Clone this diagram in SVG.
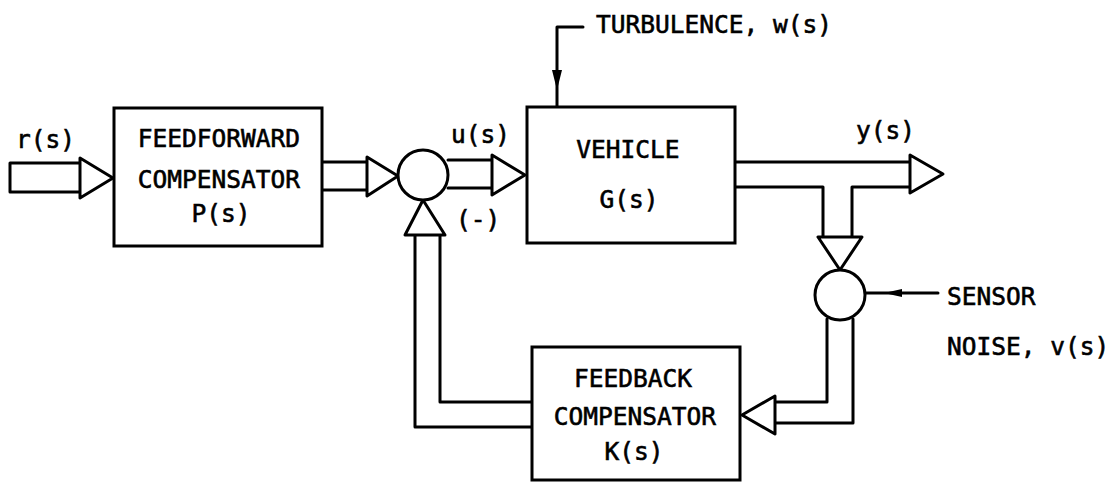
<svg xmlns="http://www.w3.org/2000/svg" width="1119" height="483" viewBox="0 0 1119 483">
<style>
.ln{fill:none;stroke:#000;stroke-width:3;stroke-linejoin:round;stroke-linecap:round}
.box{fill:#fff;stroke:#000;stroke-width:3}
.hd{fill:#fff;stroke:#000;stroke-width:3;stroke-linejoin:round}
.fh{fill:#000;stroke:none}
text{font-family:"DejaVu Sans Mono","Liberation Mono",monospace;font-size:24.5px;fill:#000;stroke:#000;stroke-width:0.6}
.c{text-anchor:middle}
</style>
<rect width="1119" height="483" fill="#fff"/>
<g id="connectors">
<path class="ln" d="M80,163 H10 V192 H80"/>
<path class="hd" d="M80,158 L113,178 L80,198 Z"/>
<path class="ln" d="M322,162 H367 M322,190 H367"/>
<path class="hd" d="M367,157 L398,176 L367,196 Z"/>
<path class="ln" d="M448,160 H492 M448,188 H492"/>
<path class="hd" d="M492,155 L525,175 L492,195 Z"/>
<path class="ln" d="M735,162 H910 M735,187 H823 V237 M852,237 V187 H910"/>
<path class="hd" d="M910,155 L943,174 L910,193 Z"/>
<path class="hd" d="M818,237 L862,237 L840,270 Z"/>
<path class="ln" d="M865,293 H938"/>
<path class="fh" d="M884,293 L902,289 L902,297 Z"/>
<path class="ln" d="M827,319 V402 H775 M853,319 V423 H775"/>
<path class="hd" d="M775,396 L742,415 L775,434 Z"/>
<path class="ln" d="M532,402 H440 V235 M532,427 H415 V235"/>
<path class="hd" d="M405,235 L445,235 L423,200 Z"/>
<path class="ln" d="M583,27 H557 V107"/>
<path class="fh" d="M552,70 L562,70 L557,90 Z"/>
</g>
<g id="feedforward">
<rect class="box" x="114" y="108" width="208" height="138"/>
<text class="c" x="219" y="147">FEEDFORWARD</text>
<text class="c" x="219" y="188">COMPENSATOR</text>
<text class="c" x="221" y="222">P(s)</text>
</g>
<g id="summer1">
<circle class="box" cx="423" cy="175" r="25"/>
</g>
<g id="vehicle">
<rect class="box" x="527" y="107" width="208" height="136"/>
<text class="c" x="628" y="158">VEHICLE</text>
<text class="c" x="629" y="208">G(s)</text>
</g>
<g id="summer2">
<circle class="box" cx="840" cy="295" r="25"/>
</g>
<g id="feedback">
<rect class="box" x="532" y="347" width="208" height="133"/>
<text class="c" x="633" y="387">FEEDBACK</text>
<text class="c" x="635" y="425">COMPENSATOR</text>
<text class="c" x="634" y="460">K(s)</text>
</g>
<g id="labels">
<text x="16" y="148">r(s)</text>
<text x="451" y="143">u(s)</text>
<text x="456" y="228">(-)</text>
<text x="856" y="139">y(s)</text>
<text x="596" y="33">TURBULENCE, w(s)</text>
<text x="947" y="305">SENSOR</text>
<text x="947" y="355">NOISE, v(s)</text>
</g>
</svg>
